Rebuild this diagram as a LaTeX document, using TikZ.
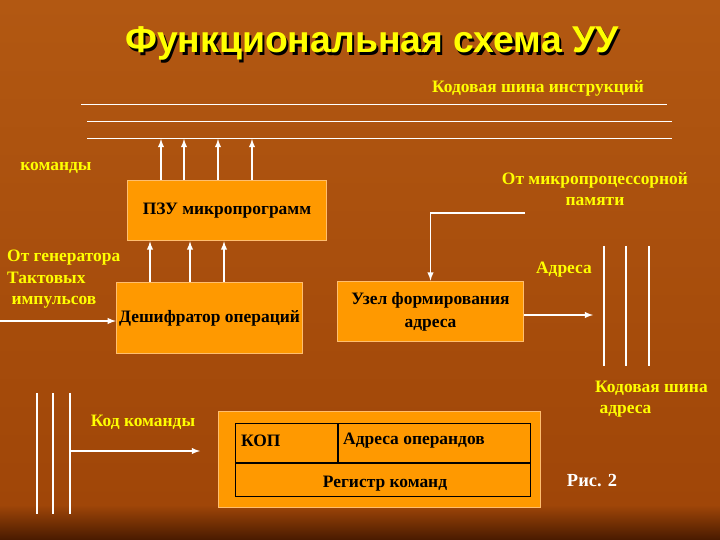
\documentclass[tikz,border=0pt]{standalone}
\usepackage{fontspec}
\setmainfont{Liberation Serif}
\newfontfamily\titlefont{Liberation Sans}
\usepackage{tikz}
\usetikzlibrary{positioning}
\usetikzlibrary{arrows,shapes}
\usetikzlibrary{calc}
\definecolor{bgtop}{RGB}{178,88,18}
\definecolor{bgmid}{RGB}{160,70,8}
\definecolor{bgbot}{RGB}{72,26,0}
\definecolor{boxfill}{RGB}{255,153,0}
\definecolor{boxline}{RGB}{255,190,110}
\definecolor{textyellow}{RGB}{255,255,0}
\tikzstyle{edge} = [draw,white,line width=1.8pt,-latex]
\tikzstyle{busline} = [draw,white,line width=1pt]
\tikzstyle{wire} = [draw,white,line width=2pt]
\tikzstyle{block} = [draw=boxline,fill=boxfill,line width=1pt,inner sep=0pt,align=center,
  font=\bfseries\fontsize{17.5}{23}\selectfont]
\tikzstyle{yellowtext} = [text=textyellow,inner sep=0pt,font=\bfseries\fontsize{17.5}{21.5}\selectfont]
\tikzstyle{regtext} = [inner sep=0pt,font=\bfseries\fontsize{17.5}{20}\selectfont]
\newcommand{\shadowed}[1]{{\color{black}\rlap{\hspace{2.5pt}\raisebox{-2.5pt}{#1}}}#1}

\begin{document}
\begin{tikzpicture}[x=1bp,y=-1bp]
\useasboundingbox (0,0) rectangle (720,540);
\shade[top color=bgtop,bottom color=bgmid] (0,0) rectangle (720,505);
\shade[top color=bgmid,bottom color=bgbot] (0,505) rectangle (720,540);

% title
\node[text=textyellow,font=\titlefont\bfseries\fontsize{37.5}{40}\selectfont] (title) at (372,45) {\shadowed{Функциональная схема УУ}};

% instruction bus
\node[yellowtext] (instrbus) at (538,88) {Кодовая шина инструкций};
\coordinate (bus1) at (81,105);
\coordinate (bus2) at (87,122);
\coordinate (bus3) at (87,139);
\path[busline] (bus1) -- ++(586,0);
\path[busline] (bus2) -- ++(585,0);
\path[busline] (bus3) -- ++(585,0);

% blocks
\node[block,minimum width=200,minimum height=61] (pzu) at (227,210.5) {ПЗУ микропрограмм};
\node[block,minimum width=187,minimum height=72] (desh) at (209.5,318) {Дешифратор операций};
\node[block,minimum width=187,minimum height=61] (uzel) at (430.5,311.5) {Узел формирования\\адреса};
\node[block,minimum width=323,minimum height=97] (reg) at (379.5,459.5) {};

\foreach \x in {161,184,218,252}
  \path[edge] (pzu.north -| \x,0) -- (bus3 -| \x,0);
\foreach \x in {150,190,224}
  \path[edge] (desh.north -| \x,0) -- (pzu.south -| \x,0);

% labels
\node[yellowtext] (komandy) at (56,168) {команды};
\node[yellowtext,align=left,anchor=west] (gen) at (7,279.5) {От генератора\\Тактовых\\\ импульсов};
\node[yellowtext,align=center] (mempam) at (595,189) {От микропроцессорной\\памяти};
\node[yellowtext] (adresa) at (564,270) {Адреса};
\node[yellowtext,align=left,anchor=west] (adrbus) at (595,399) {Кодовая шина\\\ адреса};
\node[yellowtext] (kodkom) at (143,422) {Код команды};
\node[text=white,inner sep=0pt,font=\bfseries\fontsize{18.5}{20}\selectfont] (ris) at (592,481) {Рис. 2};

% inputs and outputs
\coordinate (genin) at (0,321);
\path[edge] (genin) -- (genin -| desh.west);
\coordinate (memin) at (525,213);
\path[edge] (memin) -| (uzel.north);
\coordinate (adrout) at (593,315);
\path[edge] (adrout -| uzel.east) -- (adrout);

% address bus
\foreach \x in {604,626,649}
  \path[wire] (\x,246) -- (\x,366);
% command bus
\foreach \x in {37,53,70}
  \path[wire] (\x,393) -- (\x,514);
\coordinate (kodout) at (200,451);
\path[edge] (70,451) -- (kodout);

% command register
\draw[black,line width=0.8pt] (235,423) rectangle (530,496);
\draw[black,line width=2pt] (235,463) -- (530,463);
\draw[black,line width=2pt] (338,423) -- (338,463);
\node[regtext,anchor=west] (kop) at (241,441) {КОП};
\node[regtext,anchor=west] (operands) at (343,441) {Адреса операндов};
\node[regtext] (regname) at (385,484) {Регистр команд};
\end{tikzpicture}
\end{document}
